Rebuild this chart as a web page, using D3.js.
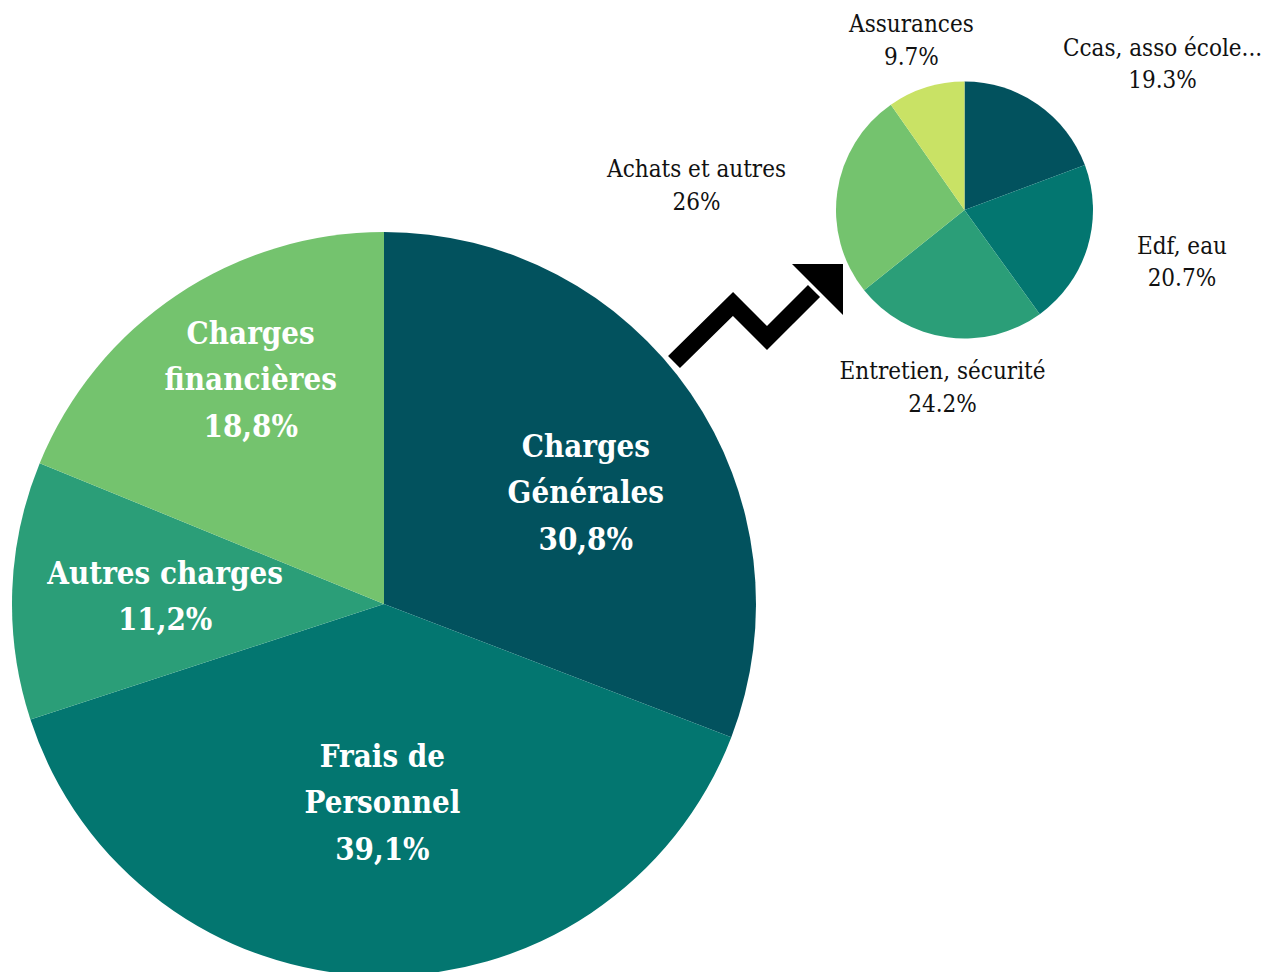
<html>
<head>
    <style>
        body { margin: 0; background: #fff; }
        .big-label { font-family: "DejaVu Serif Condensed", "DejaVu Serif", serif; font-stretch: condensed; font-weight: bold; font-size: 31px; fill: #fff; }
        .small-label { font-family: "DejaVu Serif Condensed", "DejaVu Serif", serif; font-stretch: condensed; font-size: 24px; fill: #111; }
    </style>
</head>
<body>
    <svg id="container" width="1262" height="972">
        <g id="big" transform="translate(384,604)"></g>
        <g id="small" transform="translate(964.5,210)"></g>
        <g id="arrow"></g>
    </svg>
</body>
<script src="https://cdn.jsdelivr.net/npm/d3@7"></script>
<script>
    // main pie: budget split
    let bigNames = ["Charges|Générales", "Frais de|Personnel", "Autres charges", "Charges|financières"]
    let bigValues = [30.8, 39.1, 11.2, 18.8]
    let bigPct = ["30,8%", "39,1%", "11,2%", "18,8%"]

    // detail pie: charges générales
    let smallNames = ["Ccas, asso école...", "Edf, eau", "Entretien, sécurité", "Achats et autres", "Assurances"]
    let smallValues = [19.3, 20.7, 24.2, 26, 9.7]
    let smallPct = ["19.3%", "20.7%", "24.2%", "26%", "9.7%"]

    let greens = ["#02525e", "#037670", "#2b9e78", "#74c36e", "#c9e265"]

    // label nudges (layout only)
    let bigNudge = [[18, -21], [4, -60], [4, -12], [-9, -75]]
    let smallNudge = [[84, 10], [26, -14], [5, -29], [-70, -4], [7, 13]]

    let pie = d3.pie().sort(null).value(d => d.value)

    function drawPie(sel, names, values, pcts, radius, labelRadius, nudge, cls, lineGap) {
        let data = names.map((n, i) => ({ name: n, value: values[i], pct: pcts[i] }))
        let color = d3.scaleOrdinal().domain(names).range(greens)
        let arc = d3.arc().innerRadius(0).outerRadius(radius)
        let labelArc = d3.arc().innerRadius(labelRadius).outerRadius(labelRadius)

        let g = sel.selectAll(".arc")
            .data(pie(data))
            .enter()
            .append("g")
        g.append("path")
            .attr("d", arc)
            .attr("fill", d => color(d.data.name))

        let texts = sel.selectAll(".lbl")
            .data(pie(data))
            .enter()
            .append("text")
            .attr("class", cls)
            .attr("text-anchor", "middle")
            .attr("transform", (d, i) => {
                let c = labelArc.centroid(d)
                return "translate(" + (c[0] + nudge[i][0]) + "," + (c[1] + nudge[i][1]) + ")"
            })
        texts.each(function (d) {
            let lines = d.data.name.split("|").concat([d.data.pct])
            d3.select(this).selectAll("tspan")
                .data(lines)
                .enter()
                .append("tspan")
                .attr("x", 0)
                .attr("y", (l, j) => j * lineGap)
                .text(l => l)
        })
    }

    drawPie(d3.select("#big"), bigNames, bigValues, bigPct, 372, 223, bigNudge, "big-label", 46.5)
    drawPie(d3.select("#small"), smallNames, smallValues, smallPct, 128.5, 200, smallNudge, "small-label", 32.5)

    // zigzag arrow from big pie to detail pie
    let arrow = d3.select("#arrow")
    arrow.append("path")
        .attr("d", d3.line()([[674, 362], [733, 304], [767, 338], [814, 291]]))
        .attr("fill", "none")
        .attr("stroke", "#000")
        .attr("stroke-width", 17)
        .attr("stroke-linejoin", "miter")
    arrow.append("path")
        .attr("d", "M792,264 L843,264 L843,315 Z")
        .attr("fill", "#000")
</script>
</html>
